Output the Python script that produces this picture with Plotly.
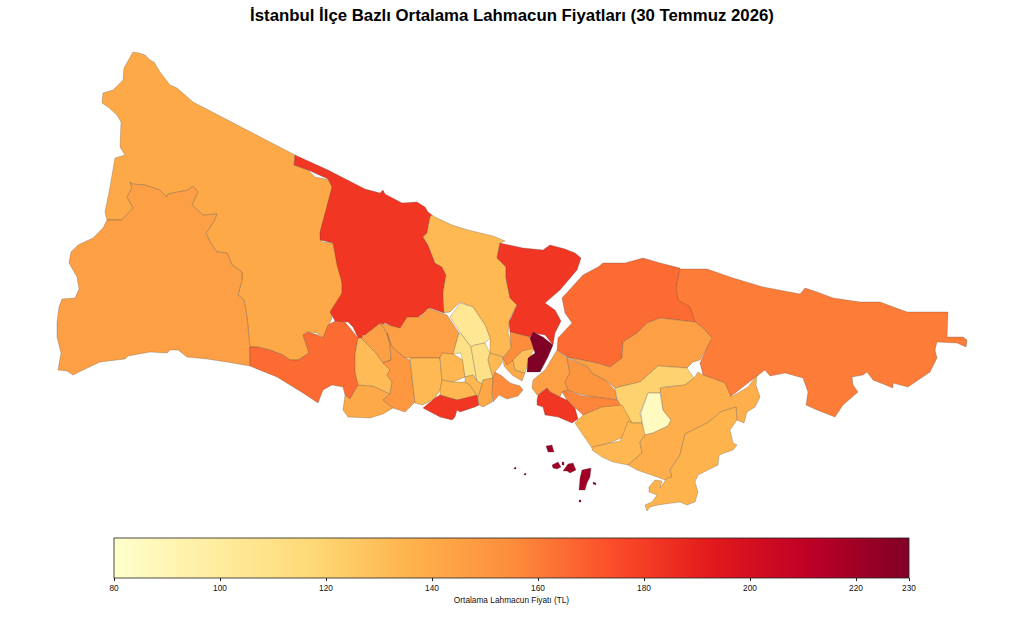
import plotly.graph_objects as go
from plotly.colors import sample_colorscale

# prices
DISTRICTS = ['Çatalca', 'Silivri', 'Büyükçekmece', 'Arnavutköy', 'Eyüpsultan', 'Sarıyer', 'Beykoz', 'Şile',
             'Başakşehir', 'Sultangazi', 'Beylikdüzü', 'Esenyurt', 'Avcılar', 'Küçükçekmece', 'Bahçelievler',
             'Güngören', 'Bakırköy', 'Gaziosmanpaşa', 'Esenler', 'Bayrampaşa', 'Kağıthane', 'Zeytinburnu',
             'Merter', 'Fatih', 'Beyoğlu', 'Şişli', 'Beşiktaş', 'Üsküdar', 'Ümraniye', 'Ataşehir', 'Kadıköy',
             'Bostancı', 'Çekmeköy', 'Sancaktepe', 'Sultanbeyli', 'Maltepe', 'Kartal', 'Pendik', 'Tuzla', 'Adalar']
PRICES = [141, 146, 165, 182, 133, 182, 165, 160,
          146, 146, 141, 132, 150, 133, 134,
          134, 182, 104, 111, 110, 133, 142,
          134, 155, 141, 155, 130, 230, 146, 151, 157,
          182, 146, 121, 85, 136, 134, 138, 136, 220]

OUTLINES = {
    'Çatalca': [[(133, 52), (139, 53), (145, 55), (150, 60), (154, 62), (160, 72), (170, 85), (177, 88), (193, 102),
                 (295, 155), (294, 165),
                 (308, 170), (315, 177), (330, 180), (332, 188), (325, 220), (320, 233), (322, 242), (333, 243),
                 (337, 260), (342, 280), (342, 297), (331, 312), (332, 318), (328, 327), (323, 338), (317, 333),
                 (308, 332), (303, 335), (309, 353), (298, 360), (290, 360), (283, 355), (270, 350), (258, 347),
                 (250, 347), (247, 317), (244, 300), (238, 295), (242, 280), (242, 272), (232, 265), (227, 253),
                 (217, 252), (210, 242), (206, 233), (213, 223), (217, 214), (203, 215), (192, 205), (198, 192),
                 (193, 186), (188, 190), (168, 194), (167, 197), (160, 190), (145, 185), (132, 184), (130, 182),
                 (132, 188), (127, 197), (133, 208), (122, 220), (107, 220), (105, 212), (110, 187), (115, 158),
                 (125, 155), (120, 147), (121, 122), (117, 115), (108, 107), (102, 103), (103, 93), (113, 90),
                 (123, 80), (124, 68)]],
    'Silivri': [[(107, 220), (122, 220), (133, 208), (127, 197), (132, 188), (130, 182), (132, 184), (145, 185),
                 (160, 190), (167, 197), (168, 194), (188, 190), (193, 186), (198, 192), (192, 205), (203, 215),
                 (217, 214), (213, 223), (206, 233), (210, 242), (217, 252), (227, 253), (232, 265), (242, 272),
                 (242, 280), (238, 295), (244, 300), (247, 317), (250, 347), (250, 366), (227, 362), (207, 359),
                 (187, 357), (178, 350), (170, 350), (167, 353), (150, 352), (128, 356), (125, 359), (100, 362),
                 (83, 370), (73, 375), (67, 371), (58, 370), (61, 353), (57, 337), (57, 322), (59, 307), (62, 299),
                 (75, 298), (79, 289), (77, 277), (69, 263), (71, 252), (78, 245), (93, 238), (103, 228)]],
    'Büyükçekmece': [[(250, 347), (258, 347), (270, 350), (283, 355), (290, 360), (298, 360), (309, 353), (303, 335),
                      (308, 332), (318, 335), (323, 338), (328, 325), (337, 320), (345, 322), (350, 328), (358, 338),
                      (355, 355), (358, 385), (350, 399), (345, 395), (343, 387), (332, 385), (323, 390), (318, 403),
                      (303, 393), (277, 377), (250, 366)]],
    'Arnavutköy': [[(295, 155), (328, 170), (365, 189), (380, 193), (383, 190), (385, 194), (402, 203), (417, 202),
                    (425, 207), (428, 212), (432, 215), (430, 217), (427, 233), (423, 237), (428, 245), (435, 263),
                    (442, 267), (446, 275), (443, 293), (444, 313), (430, 308), (417, 318), (407, 318), (403, 327),
                    (398, 329), (385, 323), (378, 328), (370, 337), (363, 335), (360, 342), (353, 327), (348, 322),
                    (335, 321), (330, 312), (342, 293), (342, 283), (337, 265), (333, 243), (320, 240), (320, 232),
                    (332, 187), (328, 179), (308, 170), (294, 165)]],
    'Eyüpsultan': [[(432, 215), (435, 217), (452, 225), (468, 230), (493, 236), (505, 241), (500, 243), (497, 258),
                    (506, 267), (506, 278), (510, 298), (517, 305), (510, 318), (508, 332), (512, 348), (503, 357),
                    (497, 355), (490, 353), (490, 338), (485, 325), (473, 307), (460, 302), (450, 312), (444, 313),
                    (443, 293), (446, 275), (442, 267), (435, 263), (428, 245), (423, 237), (427, 233), (430, 217)]],
    'Sarıyer': [[(500, 243), (523, 248), (543, 250), (550, 245), (565, 249), (575, 253), (581, 258), (577, 270),
                 (560, 290), (545, 303), (555, 310), (561, 321), (555, 333), (553, 345), (545, 335), (533, 333),
                 (530, 337), (510, 332), (509, 322), (517, 305), (510, 298), (506, 278), (506, 267), (497, 258)]],
    'Beykoz': [[(562, 298), (583, 275), (598, 267), (603, 263), (625, 263), (643, 258), (660, 263), (680, 268),
                (677, 285), (678, 298), (690, 305), (695, 318), (695, 322), (660, 318), (647, 323), (637, 333),
                (623, 342), (622, 358), (610, 367), (597, 363), (567, 357), (557, 350), (558, 338), (572, 323),
                (565, 313), (563, 300)]],
    'Şile': [[(680, 269), (707, 269), (733, 278), (763, 287), (800, 294), (805, 288), (817, 292), (833, 298),
              (860, 302), (880, 302), (907, 312), (930, 312), (948, 312), (947, 337), (963, 337), (967, 340),
              (966, 347), (957, 343), (937, 342), (935, 350), (937, 358), (930, 372), (908, 387), (893, 383),
              (893, 388), (873, 380), (867, 372), (863, 375), (852, 377), (853, 385), (858, 392), (843, 405),
              (835, 417), (817, 410), (806, 405), (808, 392), (803, 378), (785, 373), (770, 376), (765, 370),
              (758, 375), (748, 383), (730, 397), (725, 383), (703, 375), (700, 363), (707, 347), (712, 338),
              (703, 328), (695, 322), (690, 307), (678, 300), (676, 288)]],
    'Başakşehir': [[(380, 323), (400, 328), (407, 317), (420, 317), (428, 308), (447, 315), (459, 333), (453, 355),
                    (442, 353), (440, 358), (405, 358), (392, 347), (387, 333)]],
    'Sultangazi': [[(361, 338), (380, 323), (387, 333), (390, 345), (391, 360), (383, 363), (375, 352)]],
    'Beylikdüzü': [[(358, 385), (373, 386), (390, 394), (383, 400), (393, 408), (383, 414), (370, 418), (348, 417),
                    (343, 410), (345, 395), (350, 399)]],
    'Esenyurt': [[(358, 338), (361, 338), (375, 352), (383, 363), (391, 360), (390, 370), (387, 375), (392, 382),
                  (390, 394), (373, 386), (358, 385), (355, 372), (355, 355)]],
    'Avcılar': [[(387, 333), (392, 347), (405, 358), (410, 360), (415, 402), (405, 412), (393, 408), (383, 400),
                 (390, 394), (392, 382), (387, 375), (390, 370), (383, 363), (391, 360), (390, 345)]],
    'Küçükçekmece': [[(410, 358), (440, 358), (442, 382), (440, 390), (435, 398), (427, 403), (422, 405), (415, 403)]],
    'Bahçelievler': [[(440, 358), (442, 353), (453, 354), (463, 360), (465, 377), (453, 382), (442, 380)]],
    'Güngören': [[(442, 380), (453, 382), (465, 382), (470, 385), (478, 397), (457, 400), (440, 395), (440, 390)]],
    'Bakırköy': [[(423, 408), (435, 398), (440, 395), (457, 400), (477, 395), (479, 405), (475, 407), (460, 412),
                  (457, 410), (455, 417), (452, 420), (445, 418), (440, 417)]],
    'Gaziosmanpaşa': [[(450, 317), (460, 303), (473, 307), (485, 325), (490, 338), (485, 343), (475, 345), (471, 347),
                       (462, 335)]],
    'Esenler': [[(459, 333), (462, 335), (471, 347), (475, 370), (477, 381), (473, 375), (465, 377), (463, 363),
                 (461, 353), (453, 354)]],
    'Bayrampaşa': [[(471, 347), (475, 345), (485, 343), (490, 353), (488, 360), (493, 378), (483, 380), (482, 384),
                    (477, 381), (475, 370)]],
    'Kağıthane': [[(490, 353), (497, 355), (503, 357), (502, 363), (495, 372), (493, 378), (488, 360)]],
    'Zeytinburnu': [[(482, 384), (483, 380), (493, 378), (492, 392), (492, 402), (483, 407), (479, 405), (478, 397)]],
    'Merter': [[(465, 377), (473, 375), (477, 381), (482, 384), (478, 397), (470, 385), (465, 382)]],
    'Fatih': [[(495, 372), (502, 376), (510, 383), (520, 386), (523, 390), (518, 396), (507, 399), (499, 395),
               (493, 402), (492, 392), (493, 378)]],
    'Beyoğlu': [[(503, 358), (513, 360), (515, 370), (525, 373), (522, 381), (512, 375), (504, 366)]],
    'Şişli': [[(510, 332), (530, 337), (535, 350), (522, 351), (513, 360), (507, 365), (503, 358), (511, 348)]],
    'Beşiktaş': [[(513, 360), (522, 351), (534, 348), (528, 363), (525, 373), (515, 370)]],
    'Üsküdar': [[(533, 332), (543, 337), (553, 345), (548, 357), (540, 372), (527, 372), (528, 358), (535, 353),
                 (530, 338)]],
    'Ümraniye': [[(557, 350), (567, 358), (570, 373), (565, 382), (568, 390), (562, 392), (560, 397), (550, 392),
                  (547, 388), (537, 395), (532, 388), (533, 380), (545, 370), (555, 353)]],
    'Ataşehir': [[(567, 358), (588, 367), (592, 373), (605, 380), (615, 390), (617, 400), (595, 397), (582, 395),
                  (568, 390), (565, 382), (570, 373)]],
    'Kadıköy': [[(562, 392), (568, 390), (582, 396), (595, 397), (617, 400), (622, 405), (612, 409), (602, 407),
                 (583, 415), (575, 407), (567, 400)]],
    'Bostancı': [[(547, 388), (550, 392), (560, 397), (567, 400), (575, 408), (578, 419), (572, 423), (558, 417),
                  (545, 415), (543, 407), (537, 405), (537, 400), (538, 395)]],
    'Çekmeköy': [[(567, 357), (597, 363), (610, 367), (622, 358), (623, 342), (637, 333), (647, 323), (660, 318),
                  (695, 322), (703, 328), (712, 338), (707, 347), (700, 360), (693, 362), (687, 368), (658, 366),
                  (640, 382), (615, 388), (605, 380), (592, 373), (588, 367)]],
    'Sancaktepe': [[(615, 388), (640, 382), (658, 366), (687, 368), (694, 378), (685, 385), (663, 387), (660, 393),
                    (648, 393), (640, 413), (642, 423), (632, 423), (625, 412), (620, 405), (617, 398)]],
    'Sultanbeyli': [[(648, 393), (660, 393), (663, 410), (671, 420), (668, 426), (653, 433), (644, 435), (642, 423),
                     (641, 413)]],
    'Maltepe': [[(575, 423), (583, 415), (602, 407), (622, 405), (632, 423), (623, 437), (612, 442), (592, 448),
                 (583, 435)]],
    'Kartal': [[(628, 421), (632, 423), (642, 423), (645, 435), (640, 442), (642, 453), (628, 465), (613, 462),
                (602, 457), (592, 450), (592, 447), (620, 441), (624, 432)]],
    'Pendik': [[(660, 388), (685, 385), (694, 378), (698, 372), (703, 375), (725, 383), (731, 397), (748, 387),
                (757, 375), (756, 385), (760, 397), (755, 407), (747, 412), (744, 423), (737, 420), (736, 407),
                (720, 412), (715, 417), (707, 423), (685, 434), (680, 455), (670, 470), (672, 477), (665, 480),
                (657, 477), (645, 473), (637, 470), (628, 465), (642, 453), (640, 442), (645, 435), (653, 433),
                (668, 426), (671, 420), (663, 410)]],
    'Tuzla': [[(685, 434), (707, 423), (715, 417), (720, 412), (736, 407), (737, 420), (730, 430), (733, 443),
               (737, 445), (733, 450), (719, 455), (718, 465), (698, 475), (695, 482), (698, 492), (695, 502),
               (687, 505), (680, 502), (672, 503), (658, 505), (650, 507), (647, 511), (645, 505), (652, 502),
               (657, 495), (649, 492), (649, 487), (655, 480), (662, 481), (660, 488), (667, 478), (672, 477),
               (670, 470), (680, 455)]],
    'Adalar': [[(546, 446), (552, 445), (554, 452), (548, 452)],
               [(552, 465), (558, 462), (561, 467), (557, 469), (553, 468)],
               [(563, 471), (568, 464), (573, 463), (576, 470), (570, 473), (567, 471)],
               [(582, 470), (591, 468), (590, 477), (587, 483), (585, 490), (579, 490), (580, 478)],
               [(593, 482), (596, 483), (596, 485), (593, 484)],
               [(562, 462), (564, 462), (564, 465), (562, 465)],
               [(514, 468), (516, 467), (516, 469), (514, 469)],
               [(524, 474), (526, 473), (526, 475), (524, 475)],
               [(579, 500), (581, 500), (581, 502), (579, 502)]],
}

COLORSCALE = [[0, '#ffffcc'], [0.125, '#ffeda0'], [0.25, '#fed976'], [0.375, '#feb24c'], [0.5, '#fd8d3c'],
              [0.625, '#fc4e2a'], [0.75, '#e31a1c'], [0.875, '#bd0026'], [1, '#800026']]
PRICE_MIN = 80
PRICE_MAX = 230
TICK_VALUES = [80, 100, 120, 140, 160, 180, 200, 220, 230]

TITLE = 'İstanbul İlçe Bazlı Ortalama Lahmacun Fiyatları (30 Temmuz 2026)'
BAR_TITLE = 'Ortalama Lahmacun Fiyatı (TL)'
FONT = 'Liberation Sans'


def price_color(price):
    return sample_colorscale(COLORSCALE, (price - PRICE_MIN) / (PRICE_MAX - PRICE_MIN))[0]


def plot_gen():
    fig = go.Figure()

    for name, price in zip(DISTRICTS, PRICES):
        xs, ys = [], []
        for ring in OUTLINES[name]:
            xs += [p[0] for p in ring] + [ring[0][0], None]
            ys += [p[1] for p in ring] + [ring[0][1], None]
        fig.add_trace(go.Scatter(x=xs, y=ys, mode='lines', fill='toself', fillcolor=price_color(price),
                                 line=dict(color='rgba(60,60,60,0.5)', width=0.5),
                                 name=name, text='%s: %d TL' % (name, price), hoverinfo='text'))

    # empty trace, only there to carry the colour bar
    fig.add_trace(go.Scatter(x=[None, None], y=[None, None], mode='markers', hoverinfo='skip',
                             marker=dict(color=[PRICE_MIN, PRICE_MAX], colorscale=COLORSCALE,
                                         cmin=PRICE_MIN, cmax=PRICE_MAX, showscale=True,
                                         colorbar=dict(orientation='h', lenmode='pixels', len=795,
                                                       thicknessmode='pixels', thickness=40,
                                                       x=511.5 / 1024, xanchor='center',
                                                       y=1 - 538 / 630, yanchor='top',
                                                       xpad=0, ypad=0, outlinecolor='#222', outlinewidth=0.8,
                                                       tickmode='array', tickvals=TICK_VALUES,
                                                       ticks='outside', ticklen=3, tickwidth=0.7,
                                                       tickcolor='#222',
                                                       tickfont=dict(family=FONT, size=8.3, color='#111'),
                                                       title=dict(text=BAR_TITLE, side='bottom',
                                                                  font=dict(family=FONT, size=8.3, color='#111'))))))

    fig.update_layout(width=1024, height=630, margin=dict(l=0, r=0, t=0, b=0, autoexpand=False),
                      showlegend=False, paper_bgcolor='white', plot_bgcolor='white',
                      font=dict(family=FONT),
                      title=dict(text='<b>%s</b>' % TITLE, x=0.5, xanchor='center',
                                 y=1 - 15 / 630, yanchor='middle',
                                 font=dict(family=FONT, size=16.8, color='black')),
                      xaxis=dict(range=[0, 1024], visible=False),
                      yaxis=dict(range=[630, 0], visible=False))

    # page body has an 8px margin by default, the figure fills the whole window
    fig.write_html('out.html', config=dict(displayModeBar=False),
                   post_script="document.body.style.margin = '0';")


if __name__ == '__main__':
    plot_gen()
